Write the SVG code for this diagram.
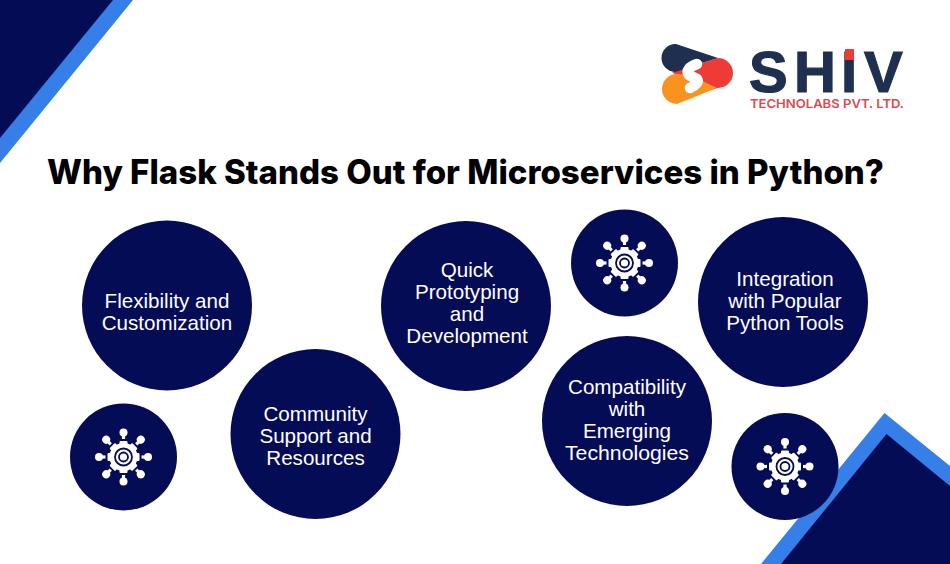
<svg xmlns="http://www.w3.org/2000/svg" xmlns:xlink="http://www.w3.org/1999/xlink" width="950" height="564" viewBox="0 0 950 564">
<style>
.c{fill:#040c55}
.t{font-family:"Liberation Sans",Arial,sans-serif;font-size:20.6px;fill:#fff;text-anchor:middle}
.title{font-family:Inter,"Liberation Sans",sans-serif;font-weight:800;font-size:33.5px;fill:#000}
.g{fill:#fff}
</style>
<defs>
<g id="gear">
<g class="g">
<g id="ray"><circle cx="0" cy="-24.500" r="4"/><rect x="-1.600" y="-24" width="3.200" height="6"/></g>
<use xlink:href="#ray" transform="rotate(45)"/><use xlink:href="#ray" transform="rotate(90)"/><use xlink:href="#ray" transform="rotate(135)"/><use xlink:href="#ray" transform="rotate(180)"/><use xlink:href="#ray" transform="rotate(225)"/><use xlink:href="#ray" transform="rotate(270)"/><use xlink:href="#ray" transform="rotate(315)"/>
<circle r="14"/>
<g id="tooth"><rect x="-4" y="-16" width="8" height="4" rx="1"/></g>
<use xlink:href="#tooth" transform="rotate(45)"/><use xlink:href="#tooth" transform="rotate(90)"/><use xlink:href="#tooth" transform="rotate(135)"/><use xlink:href="#tooth" transform="rotate(180)"/><use xlink:href="#tooth" transform="rotate(225)"/><use xlink:href="#tooth" transform="rotate(270)"/><use xlink:href="#tooth" transform="rotate(315)"/>
</g>
<circle r="8.500" fill="none" stroke="#040c55" stroke-width="1.800"/>
<circle r="4.500" fill="none" stroke="#040c55" stroke-width="1.800"/>
</g>
</defs>
<rect width="950" height="564" fill="#fff"/>
<g id="decor">
<polygon points="0,0 133,0 0,163" fill="#367ee8"/>
<polygon points="0,0 113,0 0,138" class="c"/>
<polygon points="884.500,413 950,466 950,564 761,564" fill="#367ee8"/>
<polygon points="886.500,434 950,486 950,564 781,564" class="c"/>
</g>
<g id="logo">
<path d="M718 58 A15 15 0 0 1 718 88 L700 92 L672 72 Z" fill="#ef3b36"/>
<path d="M677 74 L690 75 L717 88 L677 104 A15 15 0 0 1 677 74Z" fill="#f7931e"/>
<path d="M676 44 L718 58 L695 65 L688 68 L675 72 A14 14 0 0 1 676 44Z" fill="#1f2f4f"/>
<path d="M697 64 Q684 69 689 75 L697 79 Q700 83 690 88" fill="none" stroke="#fff" stroke-width="10.500" stroke-linecap="round" stroke-linejoin="round"/>
<text x="749 794 841 864" y="92" font-family="'Liberation Sans',sans-serif" font-weight="700" font-size="58" fill="#1f2f4f" stroke="#1f2f4f" stroke-width="1.200">SHIV</text>
<rect x="845" y="49" width="9" height="11" fill="#ef3b36"/>
<text x="750" y="108" font-family="Inter,'Liberation Sans',sans-serif" font-weight="600" font-size="12.400" textLength="154" lengthAdjust="spacingAndGlyphs" fill="#dc4a50">TECHNOLABS PVT. LTD.</text>
</g>
<text id="title" class="title" x="47" y="184" textLength="837" lengthAdjust="spacingAndGlyphs">Why Flask Stands Out for Microservices in Python?</text>
<g id="connectors"/>
<g id="node-flexibility"><circle class="c" cx="167" cy="305.500" r="85"/><text class="t" x="167" y="308">Flexibility and<tspan x="167" dy="22">Customization</tspan></text></g>
<g id="node-community"><circle class="c" cx="315.500" cy="434" r="85"/><text class="t" x="315.500" y="421">Community<tspan x="315.500" dy="22">Support and</tspan><tspan x="315.500" dy="22">Resources</tspan></text></g>
<g id="node-quick"><circle class="c" cx="466" cy="306" r="85"/><text class="t" x="467" y="277">Quick<tspan x="467" dy="22">Prototyping</tspan><tspan x="467" dy="22">and</tspan><tspan x="467" dy="22">Development</tspan></text></g>
<g id="node-compat"><circle class="c" cx="627" cy="421" r="85"/><text class="t" x="627" y="394">Compatibility<tspan x="627" dy="22">with</tspan><tspan x="627" dy="22">Emerging</tspan></text><text class="t" x="627" y="460" textLength="124" lengthAdjust="spacingAndGlyphs">Technologies</text></g>
<g id="node-integration"><circle class="c" cx="783" cy="302" r="85"/><text class="t" x="785" y="286">Integration<tspan x="785" dy="22">with Popular</tspan><tspan x="785" dy="22">Python Tools</tspan></text></g>
<g id="icon-1"><circle class="c" cx="123.500" cy="457" r="53.500"/><use xlink:href="#gear" x="123.500" y="457"/></g>
<g id="icon-2"><circle class="c" cx="624.500" cy="263" r="53.500"/><use xlink:href="#gear" x="624.500" y="263"/></g>
<g id="icon-3"><circle class="c" cx="785" cy="466.500" r="53.500"/><use xlink:href="#gear" x="785" y="466.500"/></g>
</svg>
